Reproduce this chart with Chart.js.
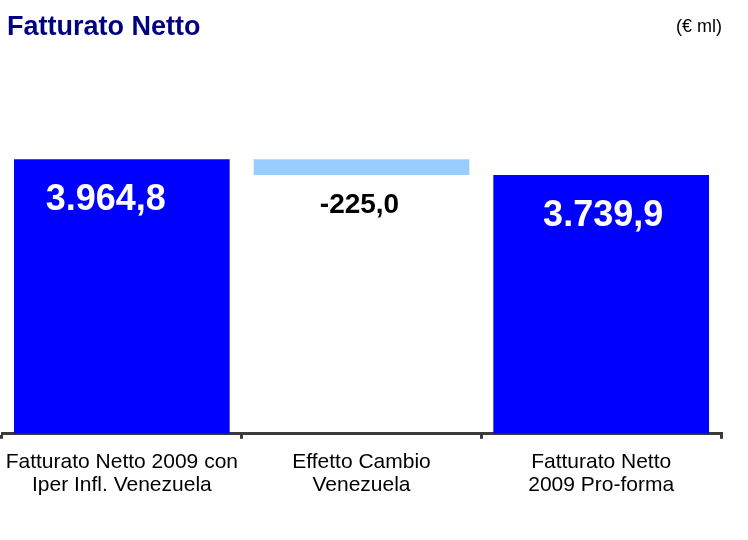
<!DOCTYPE html>
<html>
<head>
<meta charset="utf-8">
<script src="https://cdn.jsdelivr.net/npm/chart.js@4/dist/chart.umd.min.js"></script>
<style>
    html, body { margin: 0; padding: 0; background: #fff; }
    #wrap { width: 748px; height: 540px; position: relative; }
</style>
</head>
<body>
<div id="wrap"><canvas id="fatturatoChart" width="748" height="540"></canvas></div>
<script>
// Fatturato Netto - ponte (waterfall) 2009 -> 2009 Pro-forma

// categories (multi-line labels)
const categorie = [
    ['Fatturato Netto 2009 con', 'Iper Infl. Venezuela'],
    ['Effetto Cambio', 'Venezuela'],
    ['Fatturato Netto', '2009 Pro-forma']
];

// values shown on the bars (€ ml)
const valori = [3964.8, -225.0, 3739.9];

// totale vs variazione
const tipoBarra = ['totale', 'delta', 'totale'];

const coloriBarre = {
    totale: '#0000FF',
    delta: '#99CCFF'
};

// floating bars: totals start at 0, the delta hangs from the first total down to the second
const barre = [
    [0, valori[0]],
    [valori[2], valori[0]],
    [0, valori[2]]
];

function formatIt(v) {
    const neg = v < 0;
    const parts = Math.abs(v).toFixed(1).split('.');
    parts[0] = parts[0].replace(/\B(?=(\d{3})+(?!\d))/g, '.');
    return (neg ? '-' : '') + parts[0] + ',' + parts[1];
}

// ============================================================================
// PLUGINS
// ============================================================================

const titoloPlugin = {
    id: 'titolo',
    afterDraw(chart) {
        const ctx = chart.ctx;
        ctx.save();
        ctx.textBaseline = 'alphabetic';
        ctx.fillStyle = '#000080';
        ctx.font = 'bold 27px "Liberation Sans", Arial, sans-serif';
        ctx.textAlign = 'left';
        ctx.fillText('Fatturato Netto', 7, 35);
        ctx.fillStyle = '#000';
        ctx.font = '18px "Liberation Sans", Arial, sans-serif';
        ctx.textAlign = 'right';
        ctx.fillText('(€ ml)', 722, 32);
        ctx.restore();
    }
};

const etichettePlugin = {
    id: 'etichette',
    afterDatasetsDraw(chart) {
        const ctx = chart.ctx;
        const meta = chart.getDatasetMeta(0);
        ctx.save();
        ctx.textAlign = 'center';
        ctx.textBaseline = 'middle';
        meta.data.forEach((bar, i) => {
            const testo = formatIt(valori[i]);
            if (tipoBarra[i] === 'totale') {
                ctx.fillStyle = '#fff';
                ctx.font = 'bold 36px "Liberation Sans", Arial, sans-serif';
                const dx = i === 0 ? -16 : 2;
                ctx.fillText(testo, bar.x + dx, bar.y + 41);
            } else {
                ctx.fillStyle = '#000';
                ctx.font = 'bold 28px "Liberation Sans", Arial, sans-serif';
                ctx.fillText(testo, bar.x - 2, bar.base + 30);
            }
        });
        ctx.restore();
    }
};

// ============================================================================
// CHART
// ============================================================================

const chart = new Chart(document.getElementById('fatturatoChart'), {
    type: 'bar',
    data: {
        labels: categorie,
        datasets: [{
            data: barre,
            backgroundColor: tipoBarra.map(t => coloriBarre[t]),
            borderWidth: 0,
            borderSkipped: false,
            categoryPercentage: 0.9,
            barPercentage: 1.0
        }]
    },
    options: {
        responsive: false,
        animation: false,
        layout: {
            padding: { top: 60, left: 2, right: 27, bottom: 31 }
        },
        plugins: {
            legend: { display: false },
            tooltip: { enabled: false },
            title: { display: false }
        },
        scales: {
            x: {
                offset: true,
                // the wide first label must not push the axis to the right
                afterFit: scale => {
                    scale.paddingLeft = 0;
                    scale.paddingRight = 0;
                },
                border: { display: true, color: '#3a3a3a', width: 3 },
                grid: {
                    offset: true,
                    drawOnChartArea: false,
                    drawTicks: true,
                    tickLength: 5,
                    color: '#3a3a3a',
                    lineWidth: 3
                },
                ticks: {
                    color: '#000',
                    padding: 12,
                    font: { family: '"Liberation Sans", Arial, sans-serif', size: 21, lineHeight: 1.1 },
                    maxRotation: 0,
                    autoSkip: false
                }
            },
            y: {
                display: false,
                min: 0,
                max: 5400
            }
        }
    },
    plugins: [titoloPlugin, etichettePlugin]
});
</script>
</body>
</html>
